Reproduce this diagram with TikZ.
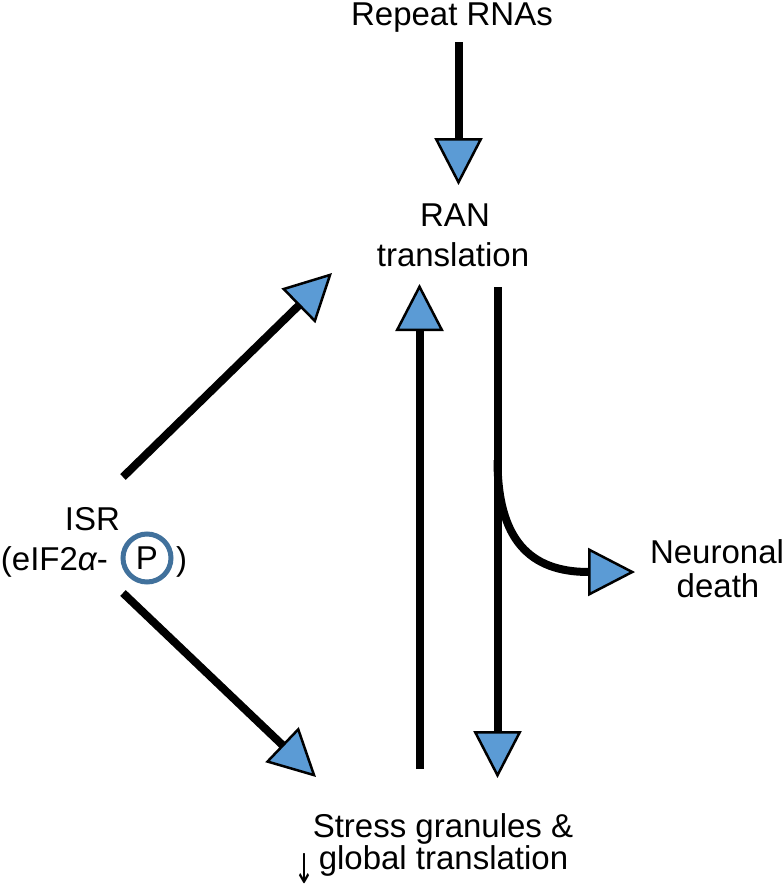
\documentclass[tikz,border=0pt]{standalone}
\usepackage{fontspec}
\setmainfont{Liberation Sans}
\newfontfamily\arrowfont{DejaVu Sans}
\usetikzlibrary{arrows.meta}
\definecolor{headblue}{RGB}{91,155,213}
\definecolor{ringblue}{RGB}{65,113,156}
\begin{document}
\begin{tikzpicture}[x=1pt,y=-1pt,
  lbl/.style={font=\fontsize{33}{38}\selectfont, inner sep=0pt, anchor=base},
  flow/.style={line width=8pt, -{Triangle[length=47pt,width=48pt,line width=2.5pt,fill=headblue]}}]
\useasboundingbox (0,0) rectangle (784,884);
% texts
\node[lbl] (rep) at (452,25) {Repeat RNAs};
\node[lbl] (ran1) at (455,226) {RAN};
\node[lbl] (ran2) at (453,266) {translation};
\node[lbl] (isr1) at (92.5,530) {ISR};
\node[lbl,anchor=base east] (isr2) at (108,570) {(eIF2{\itshape α}-};
\node[circle,draw=ringblue,line width=5pt,minimum size=48pt,inner sep=0pt,
      font=\fontsize{33}{38}\selectfont] (pcirc) at (147,558) {P};
\node[lbl,anchor=base west] (isr3) at (176,570) {)};
\node[lbl] (neu1) at (717,563) {Neuronal};
\node[lbl] (neu2) at (718,597) {death};
\node[lbl] (sg1) at (443,837) {Stress granules \&};
\node[lbl] (sg2) at (443.5,869) {global translation};
\node[lbl,anchor=north] (down) at (304,853) {\resizebox*{20pt}{30pt}{\arrowfont ↓}};
% coordinates
\coordinate (a1s) at (458.5,42);
\coordinate (a1e) at (458.5,185);
\coordinate (a2s) at (123,477);
\coordinate (a2e) at (332,273);
\coordinate (a3s) at (419.5,769);
\coordinate (a3e) at (419.5,284);
\coordinate (a4s) at (497.5,287);
\coordinate (a4e) at (497.5,778);
\coordinate (a5s) at (497.5,460);
\coordinate (a5e) at (635,572);
\coordinate (a6s) at (123,593);
\coordinate (a6e) at (316,777);
% connectors
\draw[flow] (a1s) -- (a1e);
\draw[flow] (a2s) -- (a2e);
\draw[flow] (a3s) -- (a3e);
\draw[flow] (a4s) -- (a4e);
\draw[flow] (a5s) .. controls (497.5,540) and (530,572) .. (a5e);
\draw[flow] (a6s) -- (a6e);
\end{tikzpicture}
\end{document}
